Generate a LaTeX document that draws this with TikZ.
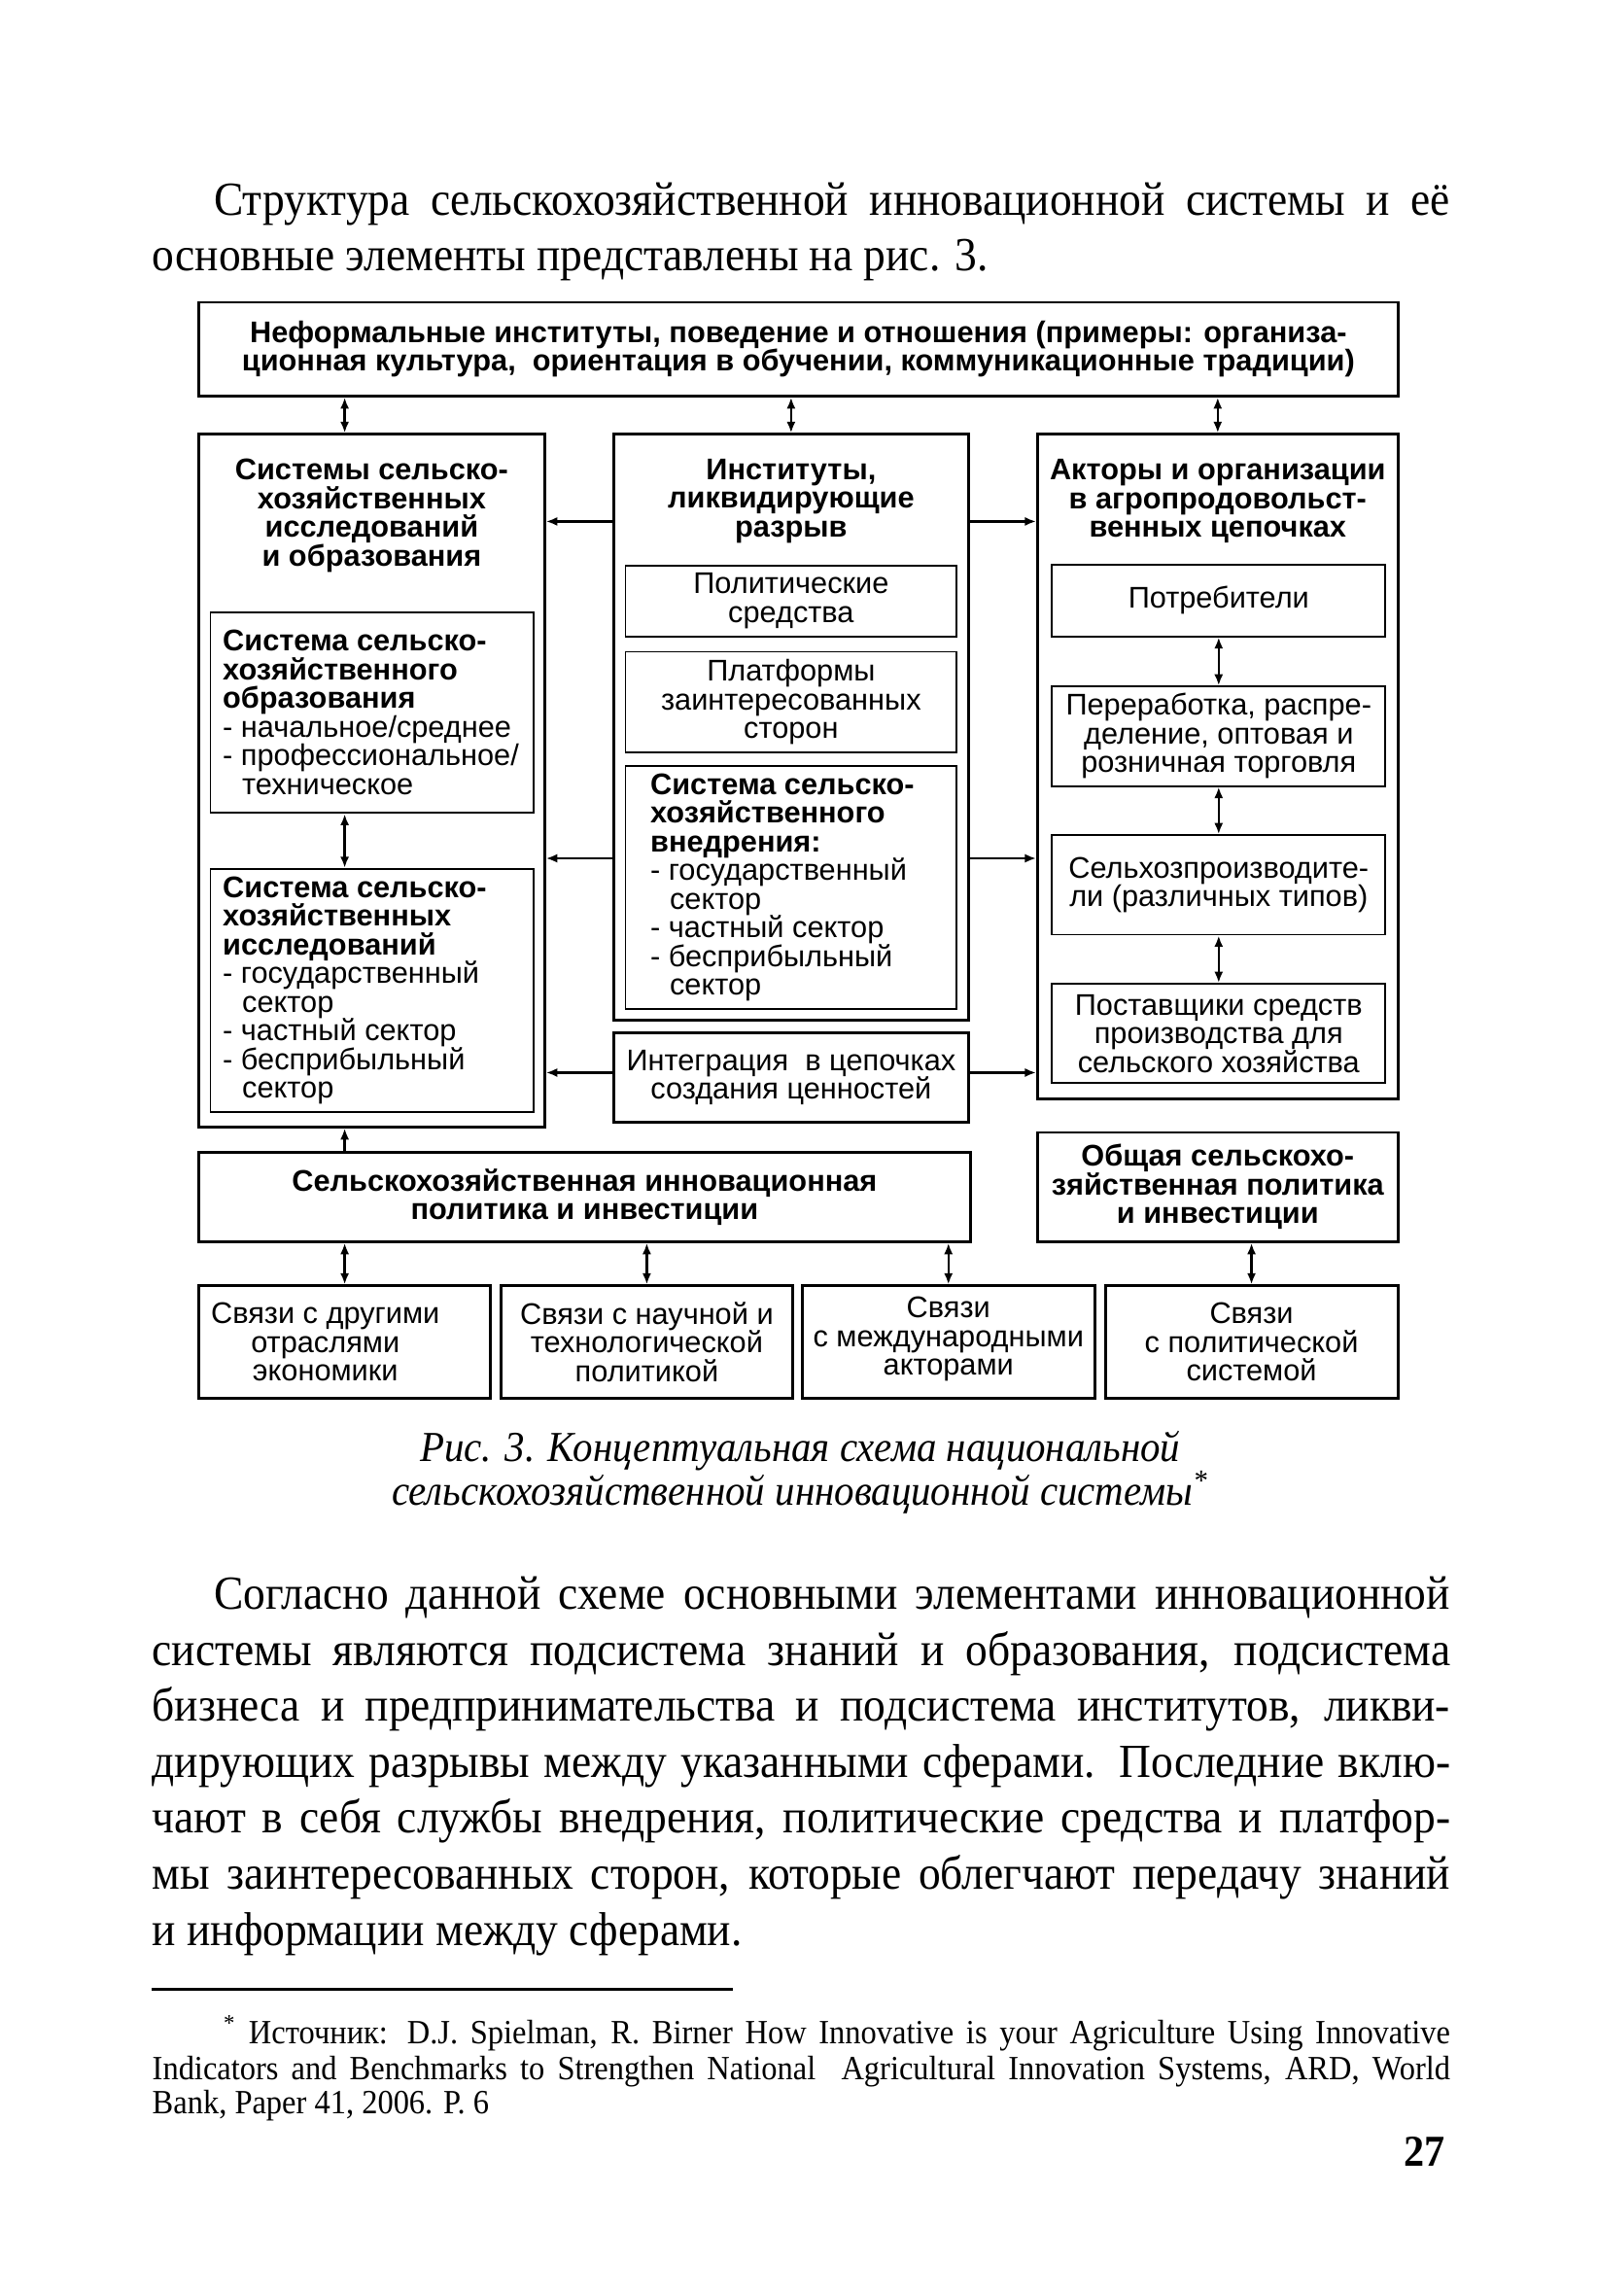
\documentclass[tikz,border=0pt]{standalone}
\usepackage{fontspec}
\setmainfont{Liberation Serif}[FakeStretch=0.93]
\setsansfont{Liberation Sans}
\usepackage{tikz}
\usetikzlibrary{arrows.meta}

\newcommand{\diagfont}{\sffamily\fontsize{8.8}{8.45}\selectfont}
\newcommand{\bodyfont}{\fontsize{14}{16.5}\selectfont}
\newcommand{\capfont}{\fontsize{12.6}{15}\selectfont\itshape}
\newcommand{\notefont}{\fontsize{10}{10.25}\selectfont}
\newcommand{\jline}[2]{\makebox[#1][s]{#2}}

\tikzstyle{outerBox} = [draw, line width=0.85pt, inner sep=0pt]
\tikzstyle{innerBox} = [draw, line width=0.55pt, inner sep=0pt, font=\diagfont, align=center]
\tikzstyle{plainBox} = [outerBox, font=\diagfont, align=center]
\tikzstyle{boldBox} = [outerBox, font=\diagfont\bfseries, align=center]
\tikzstyle{title} = [font=\diagfont\bfseries, align=center, inner sep=0pt]
\tikzstyle{listText} = [font=\diagfont, align=left, inner sep=0pt, anchor=west]
\tikzstyle{link} = [line width=0.65pt, -{Latex[length=3.3pt,width=2.6pt]}]
\tikzstyle{dlink} = [line width=0.65pt, {Latex[length=3.3pt,width=2.6pt]}-{Latex[length=3.3pt,width=2.6pt]}]
\tikzstyle{bodyLine} = [font=\bodyfont, inner sep=0pt, anchor=base west]
\tikzstyle{noteLine} = [font=\notefont, inner sep=0pt, anchor=base west]
\tikzstyle{capLine} = [font=\capfont, inner sep=0pt, anchor=base]

\begin{document}
\begin{tikzpicture}[x=0.01cm, y=-0.01cm]
  \fill[white] (-1.1,-2.2) rectangle (1652.5,2376.4);
  \useasboundingbox (-1.1,-2.2) rectangle (1652.5,2376.4);

  % text above the figure
  \node[bodyLine] at (220,221)(p1){\jline{12.8cm}{Структура сельскохозяйственной инновационной системы и её}};
  \node[bodyLine] at (156,278)(p2){основные элементы представлены на рис. 3.};

  % top row
  \node[boldBox, minimum width=12.42cm, minimum height=0.97cm] at (826,359.5)(top){Неформальные институты, поведение и отношения (примеры: организа-\\ционная культура,\ \ ориентация в обучении, коммуникационные традиции)};

  % left column
  \node[outerBox, minimum width=3.58cm, minimum height=7.17cm] at (384,806.5)(colL){};
  \node[title] at (384,532)(colLT){Системы сельско-\\хозяйственных\\исследований\\и образования};
  \node[innerBox, minimum width=3.35cm, minimum height=2.08cm] at (384.5,736)(edu){};
  \node[listText] at (229,736)(eduT){\textbf{Система сельско-}\\\textbf{хозяйственного}\\\textbf{образования}\\- начальное/среднее\\- профессиональное/\\\hspace*{0.65em}техническое};
  \node[innerBox, minimum width=3.35cm, minimum height=2.52cm] at (384.5,1024)(res){};
  \node[listText] at (229,1024)(resT){\textbf{Система сельско-}\\\textbf{хозяйственных}\\\textbf{исследований}\\- государственный\\\hspace*{0.65em}сектор\\- частный сектор\\- бесприбыльный\\\hspace*{0.65em}сектор};

  % middle column
  \node[outerBox, minimum width=3.67cm, minimum height=6.06cm] at (818.5,751)(colM){};
  \node[title] at (818.5,517)(colMT){Институты,\\ликвидирующие\\разрыв};
  \node[innerBox, minimum width=3.43cm, minimum height=0.73cm] at (818.5,620.5)(pol){Политические\\средства};
  \node[innerBox, minimum width=3.43cm, minimum height=1.04cm] at (818.5,725)(plat){Платформы\\заинтересованных\\сторон};
  \node[innerBox, minimum width=3.43cm, minimum height=2.52cm] at (818.5,917)(ext){};
  \node[listText] at (672,917)(extT){\textbf{Система сельско-}\\\textbf{хозяйственного}\\\textbf{внедрения:}\\- государственный\\\hspace*{0.65em}сектор\\- частный сектор\\- бесприбыльный\\\hspace*{0.65em}сектор};
  \node[plainBox, minimum width=3.67cm, minimum height=0.92cm] at (818.5,1114)(integ){Интеграция\ \ в цепочках\\создания ценностей};

  % right column
  \node[outerBox, minimum width=3.73cm, minimum height=6.88cm] at (1260.5,792)(colR){};
  \node[title] at (1260.5,517)(colRT){Акторы и организации\\в агропродовольст-\\венных цепочках};
  \node[innerBox, minimum width=3.45cm, minimum height=0.74cm] at (1261.5,620)(cons){Потребители};
  \node[innerBox, minimum width=3.45cm, minimum height=1.03cm] at (1261.5,760.5)(proc){Переработка, распре-\\деление, оптовая и\\розничная торговля};
  \node[innerBox, minimum width=3.45cm, minimum height=1.03cm] at (1261.5,914.5)(farm){Сельхозпроизводите-\\ли (различных типов)};
  \node[innerBox, minimum width=3.45cm, minimum height=1.03cm] at (1261.5,1068.5)(supp){Поставщики средств\\производства для\\сельского хозяйства};

  % policy row
  \node[boldBox, minimum width=7.99cm, minimum height=0.92cm] at (604.5,1238)(innoPol){Сельскохозяйственная инновационная\\политика и инвестиции};
  \node[boldBox, minimum width=3.73cm, minimum height=1.13cm] at (1260.5,1227.5)(genPol){Общая сельскохо-\\зяйственная политика\\и инвестиции};

  % links row
  \node[plainBox, minimum width=3.02cm, minimum height=1.16cm] at (356,1388)(link1){};
  \node[font=\diagfont, align=center, inner sep=0pt] at (336,1388)(link1T){Связи с другими\\отраслями\\экономики};
  \node[plainBox, minimum width=3.02cm, minimum height=1.16cm] at (669,1388)(link2){Связи с научной и\\технологической\\политикой};
  \node[plainBox, minimum width=3.03cm, minimum height=1.16cm] at (981.5,1388)(link3){};
  \node[font=\diagfont, align=center, inner sep=0pt] at (981.5,1385)(link3T){Связи\\с международными\\акторами};
  \node[plainBox, minimum width=3.03cm, minimum height=1.16cm] at (1295.5,1388)(link4){Связи\\с политической\\системой};

  % connectors
  \coordinate (vL) at (356,0);
  \coordinate (hA) at (0,538);
  \coordinate (hB) at (0,887);
  \coordinate (hC) at (0,1109);

  \draw[dlink] (top.south -| vL) -- (colL.north -| vL);
  \draw[dlink] (top.south -| colM.north) -- (colM.north);
  \draw[dlink] (top.south -| colR.north) -- (colR.north);
  \draw[dlink] (edu.south -| vL) -- (res.north -| vL);
  \draw[dlink] (cons) -- (proc);
  \draw[dlink] (proc) -- (farm);
  \draw[dlink] (farm) -- (supp);

  \draw[link] (colM.west |- hA) -- (colL.east |- hA);
  \draw[link] (colM.west |- hB) -- (colL.east |- hB);
  \draw[link] (integ.west |- hC) -- (colL.east |- hC);
  \draw[link] (colM.east |- hA) -- (colR.west |- hA);
  \draw[link] (colM.east |- hB) -- (colR.west |- hB);
  \draw[link] (integ.east |- hC) -- (colR.west |- hC);

  \draw[link] (innoPol.north -| vL) -- (colL.south -| vL);
  \draw[dlink] (innoPol.south -| link1.north) -- (link1.north);
  \draw[dlink] (innoPol.south -| link2.north) -- (link2.north);
  \draw[dlink] (innoPol.south -| link3.north) -- (link3.north);
  \draw[dlink] (genPol.south -| link4.north) -- (link4.north);

  % caption
  \node[capLine] at (828,1512)(cap1){Рис. 3. Концептуальная схема национальной};
  \node[capLine] at (828,1557)(cap2){сельскохозяйственной инновационной системы\textsuperscript{*}};

  % text below the figure
  \node[bodyLine] at (220,1665)(q1){\jline{12.8cm}{Согласно данной схеме основными элементами инновационной}};
  \node[bodyLine] at (156,1723)(q2){\jline{13.44cm}{системы являются подсистема знаний и образования, подсистема}};
  \node[bodyLine] at (156,1781)(q3){\jline{13.44cm}{бизнеса и предпринимательства и подсистема институтов, ликви-}};
  \node[bodyLine] at (156,1839)(q4){\jline{13.44cm}{дирующих разрывы между указанными сферами. Последние вклю-}};
  \node[bodyLine] at (156,1897)(q5){\jline{13.44cm}{чают в себя службы внедрения, политические средства и платфор-}};
  \node[bodyLine] at (156,1955)(q6){\jline{13.44cm}{мы заинтересованных сторон, которые облегчают передачу знаний}};
  \node[bodyLine] at (156,2013)(q7){и информации между сферами.};

  % footnote
  \coordinate (ruleA) at (156,2059);
  \coordinate (ruleB) at (758,2059);
  \draw[line width=0.9pt] (ruleA) -- (ruleB);
  \node[noteLine] at (230,2115)(f1){\jline{12.7cm}{\textsuperscript{*} Источник: D.J. Spielman, R. Birner How Innovative is your Agriculture Using Innovative}};
  \node[noteLine] at (156,2152)(f2){\jline{13.44cm}{Indicators and Benchmarks to Strengthen National\ \ Agricultural Innovation Systems, ARD, World}};
  \node[noteLine] at (156,2188)(f3){Bank, Paper 41, 2006. P. 6};

  \node[font=\fontsize{13}{15}\selectfont\bfseries, inner sep=0pt, anchor=base east] at (1497,2242)(pgno){27};
\end{tikzpicture}
\end{document}
